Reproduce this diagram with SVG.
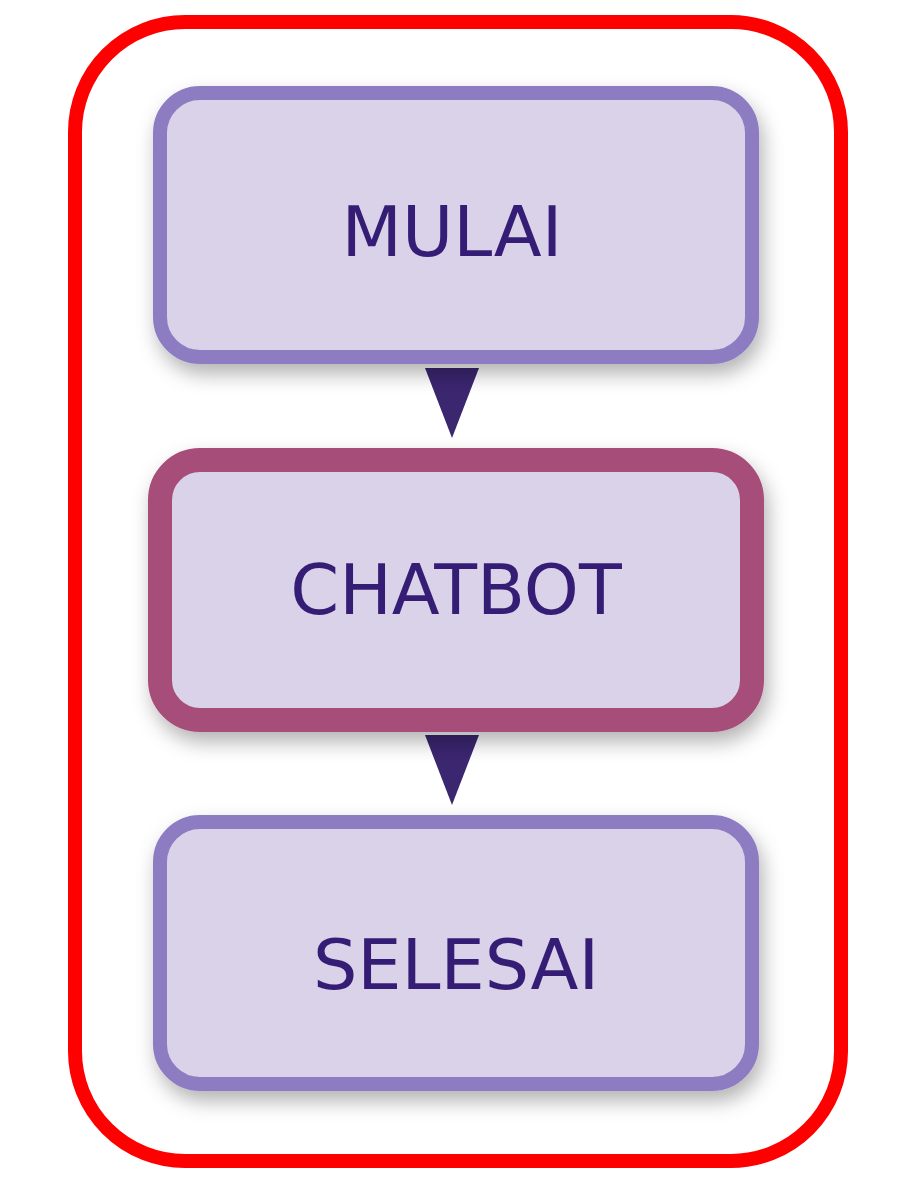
<svg xmlns="http://www.w3.org/2000/svg" width="912" height="1184" viewBox="0 0 912 1184">
<defs>
<style>
.box{fill:#d9d2e9;stroke:#8e7cc3;stroke-width:14}
.lbl{font-family:"DejaVu Sans","Liberation Sans",sans-serif;font-size:70px;fill:#351c75;text-anchor:middle}
.arr{fill:#3b2670}
</style>
<filter id="sh" x="-20%" y="-20%" width="140%" height="150%"><feDropShadow dx="4" dy="10" stdDeviation="10" flood-color="#000" flood-opacity="0.3"/></filter>
</defs>
<rect width="912" height="1184" fill="#fff"/>
<rect x="75" y="22" width="766" height="1139" rx="110" fill="none" stroke="#ff0000" stroke-width="14"/>
<g id="connectors">
<polygon class="arr" points="425,368 479,368 452,438"/>
<polygon class="arr" points="425,735 479,735 452,805"/>
</g>
<g id="mulai"><rect class="box" x="160" y="93" width="592" height="264" rx="40" filter="url(#sh)"/><text class="lbl" x="452" y="256">MULAI</text></g>
<g id="chatbot"><rect class="box" x="160" y="460" width="592" height="260" rx="40" style="stroke:#a64d79;stroke-width:24" filter="url(#sh)"/><text class="lbl" x="456" y="614">CHATBOT</text></g>
<g id="selesai"><rect class="box" x="160" y="822" width="592" height="262" rx="40" filter="url(#sh)"/><text class="lbl" x="456" y="989">SELESAI</text></g>
</svg>
